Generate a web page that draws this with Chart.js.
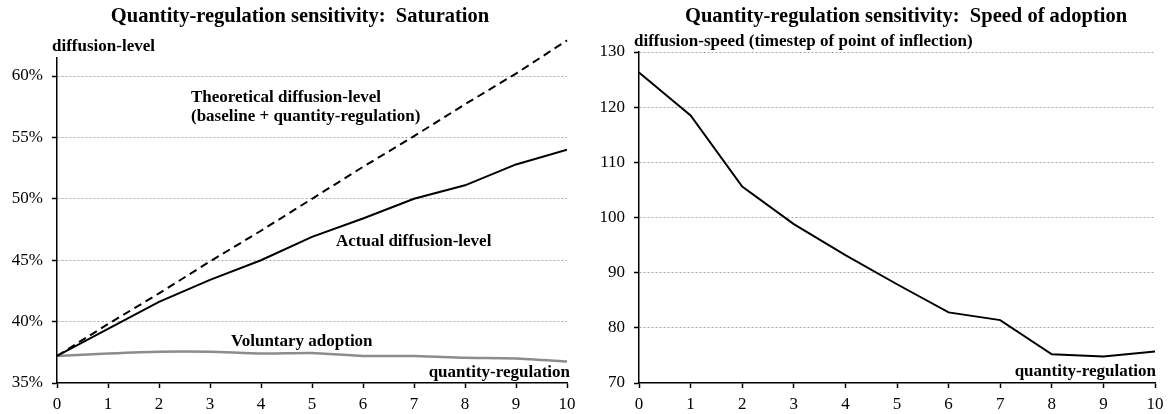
<!DOCTYPE html>
<html><head><meta charset="utf-8">
<script src="https://cdn.jsdelivr.net/npm/chart.js@4"></script>
<style>
html,body{margin:0;padding:0;background:#fff;}
#wrap{position:relative;width:1172px;height:414px;overflow:hidden;}
canvas{position:absolute;top:0;}
</style>
</head><body>
<div id="wrap">
<canvas id="c1" width="586" height="414" style="left:0"></canvas>
<canvas id="c2" width="586" height="414" style="left:586px"></canvas>
</div>
<script>
// ---- data ----
const quantityRegulation = [0, 1, 2, 3, 4, 5, 6, 7, 8, 9, 10];
const theoreticalLevel = [37.2, 39.8, 42.3, 44.9, 47.4, 50.0, 52.6, 55.1, 57.7, 60.2, 62.9];
const actualLevel      = [37.2, 39.4, 41.6, 43.4, 45.0, 46.9, 48.4, 50.0, 51.1, 52.8, 54.0];
const voluntaryLevel   = [37.2, 37.4, 37.55, 37.55, 37.4, 37.45, 37.2, 37.2, 37.05, 37.0, 36.75];
const diffusionSpeed   = [126.3, 118.5, 105.6, 98.8, 93.2, 87.9, 82.8, 81.4, 75.2, 74.8, 75.7];
const levelTicks = [35, 40, 45, 50, 55, 60];
const speedTicks = [70, 80, 90, 100, 110, 120, 130];
const xTicks = [0, 1, 2, 3, 4, 5, 6, 7, 8, 9, 10];

Chart.defaults.font.family = "'Liberation Serif', 'DejaVu Serif', serif";
Chart.defaults.color = '#000';

const pts = (ys) => quantityRegulation.map((x, i) => ({x: x, y: ys[i]}));

const textPlugin = {
  id: 'texts',
  afterDraw(chart, args, opts) {
    const ctx = chart.ctx;
    ctx.save();
    ctx.fillStyle = '#000';
    ctx.textBaseline = 'middle';
    (opts.items || []).forEach(t => {
      ctx.font = t.font;
      ctx.textAlign = t.align || 'left';
      ctx.fillText(t.text, t.x, t.y);
    });
    ctx.restore();
  }
};

const BOLD = "bold 17px 'Liberation Serif', serif";
const TITLE = "bold 20.5px 'Liberation Serif', serif";

function makeScales(yMin, yMax, yTickVals, yWidth, fmt) {
  return {
    x: {
      type: 'linear', min: 0, max: 10,
      afterBuildTicks: s => { s.ticks = xTicks.map(v => ({value: v})); },
      afterFit: s => { s.height = 31; },
      grid: { drawOnChartArea: false, drawTicks: true, tickLength: 5, tickColor: '#000', tickWidth: 1.5 },
      border: { display: true, color: '#000', width: 1.5 },
      ticks: { font: { size: 17 }, padding: 6, maxRotation: 0, autoSkip: false }
    },
    y: {
      type: 'linear', min: yMin, max: yMax,
      afterBuildTicks: s => { s.ticks = yTickVals.map(v => ({value: v})); },
      afterFit: s => { s.width = yWidth; },
      grid: {
        color: c => (c.tick && c.tick.value === yMin) ? 'rgba(0,0,0,0)' : '#a6a6a6',
        lineWidth: 1, drawTicks: true, tickLength: 5, tickColor: '#000', tickWidth: 1.5,
        tickBorderDash: []
      },
      border: { display: true, color: '#000', width: 1.5, dash: [2, 2] },
      ticks: { font: { size: 17 }, padding: 9, callback: fmt, autoSkip: false }
    }
  };
}

new Chart(document.getElementById('c1'), {
  type: 'line',
  data: {
    datasets: [
      { label: 'Theoretical diffusion-level', data: pts(theoreticalLevel), borderColor: '#000', borderWidth: 2, borderDash: [8, 5], pointRadius: 0, tension: 0, clip: false },
      { label: 'Actual diffusion-level', data: pts(actualLevel), borderColor: '#000', borderWidth: 2, pointRadius: 0, tension: 0 },
      { label: 'Voluntary adoption', data: pts(voluntaryLevel), borderColor: '#8c8c8c', borderWidth: 2.5, pointRadius: 0, tension: 0.2 }
    ]
  },
  options: {
    responsive: false, animation: false, devicePixelRatio: 1,
    layout: { padding: { top: 57.6, left: 0, right: 19, bottom: 0 } },
    plugins: {
      legend: { display: false }, tooltip: { enabled: false }, title: { display: false },
      texts: { items: [
        { text: 'Quantity-regulation sensitivity:  Saturation', x: 300, y: 17, align: 'center', font: TITLE },
        { text: 'diffusion-level', x: 52, y: 47, font: BOLD },
        { text: 'Theoretical diffusion-level', x: 191, y: 98, font: BOLD },
        { text: '(baseline + quantity-regulation)', x: 191, y: 117, font: BOLD },
        { text: 'Actual diffusion-level', x: 336, y: 242, font: BOLD },
        { text: 'Voluntary adoption', x: 231, y: 342, font: BOLD },
        { text: 'quantity-regulation', x: 570, y: 373, align: 'right', font: BOLD }
      ] }
    },
    scales: makeScales(35, 61.5, levelTicks, 57, v => v + '%')
  },
  plugins: [textPlugin]
});

new Chart(document.getElementById('c2'), {
  type: 'line',
  data: {
    datasets: [
      { label: 'diffusion-speed', data: pts(diffusionSpeed), borderColor: '#000', borderWidth: 2, pointRadius: 0, tension: 0 }
    ]
  },
  options: {
    responsive: false, animation: false, devicePixelRatio: 1,
    layout: { padding: { top: 52, left: 0, right: 17, bottom: 0 } },
    plugins: {
      legend: { display: false }, tooltip: { enabled: false }, title: { display: false },
      texts: { items: [
        { text: 'Quantity-regulation sensitivity:  Speed of adoption', x: 320, y: 17, align: 'center', font: TITLE },
        { text: 'diffusion-speed (timestep of point of inflection)', x: 48, y: 42, font: BOLD },
        { text: 'quantity-regulation', x: 570, y: 372, align: 'right', font: BOLD }
      ] }
    },
    scales: makeScales(70, 130, speedTicks, 53, v => String(v))
  },
  plugins: [textPlugin]
});
</script>
</body></html>
